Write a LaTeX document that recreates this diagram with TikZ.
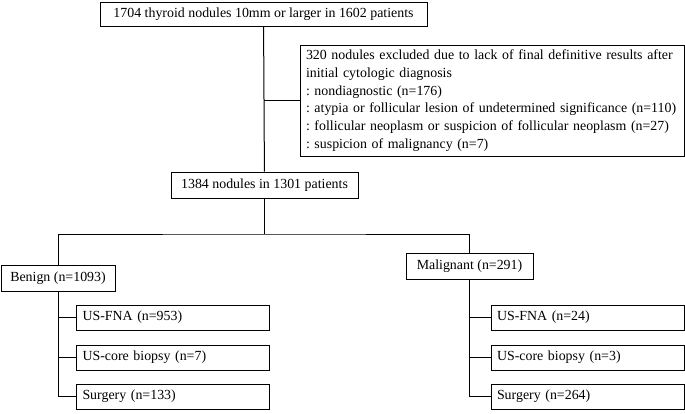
\documentclass[tikz,border=0pt]{standalone}
\usepackage{fontspec}
\setmainfont{Liberation Serif}
\usepackage{tikz}

\begin{document}
\frenchspacing
\begin{tikzpicture}[x=1pt, y=-1pt, line width=1pt,
  main/.style = {draw, inner xsep=6pt, inner ysep=2pt, font=\fontsize{13.9}{17.7}\selectfont},
  sub/.style = {main, text width=181pt, align=left, minimum height=25pt}]
\useasboundingbox (0,0) rectangle (685,413);
\node[main, minimum width=327pt, minimum height=24pt] (all) at (263.5,14) {1704 thyroid nodules 10mm or larger in 1602 patients};
\node[main, text width=372pt, align=left, minimum height=111pt] (excl) at (492,100.5) {320 nodules excluded due to lack of final definitive results after\\initial cytologic diagnosis\\: nondiagnostic (n=176)\\: atypia or follicular lesion of undetermined significance (n=110)\\: follicular neoplasm or suspicion of follicular neoplasm (n=27)\\: suspicion of malignancy (n=7)};
\node[main, minimum width=187pt, minimum height=26pt] (incl) at (264.5,185) {1384 nodules in 1301 patients};
\node[main, minimum width=114pt, minimum height=26pt] (benign) at (58,278) {Benign (n=1093)};
\node[main, minimum width=127pt, minimum height=26pt] (malig) at (469.5,266) {Malignant (n=291)};
\node[sub] (bfna) at (173,317.5) {US-FNA (n=953)};
\node[sub] (bcore) at (173,357.5) {US-core biopsy (n=7)};
\node[sub] (bsurg) at (173,396.5) {Surgery (n=133)};
\node[sub] (mfna) at (587.5,317.5) {US-FNA (n=24)};
\node[sub] (mcore) at (587.5,357.5) {US-core biopsy (n=3)};
\node[sub] (msurg) at (587.5,396.5) {Surgery (n=264)};
\coordinate (split) at (264.5,234);
\draw (all) -- (incl);
\draw (all.south |- excl.west) -- (excl.west);
\draw (incl) -- (split);
\draw (benign.north) |- (split) -| (malig.north);
\draw (benign.south) |- (bfna.west);
\draw (benign.south) |- (bcore.west);
\draw (benign.south) |- (bsurg.west);
\draw (malig.south) |- (mfna.west);
\draw (malig.south) |- (mcore.west);
\draw (malig.south) |- (msurg.west);
\end{tikzpicture}
\end{document}
